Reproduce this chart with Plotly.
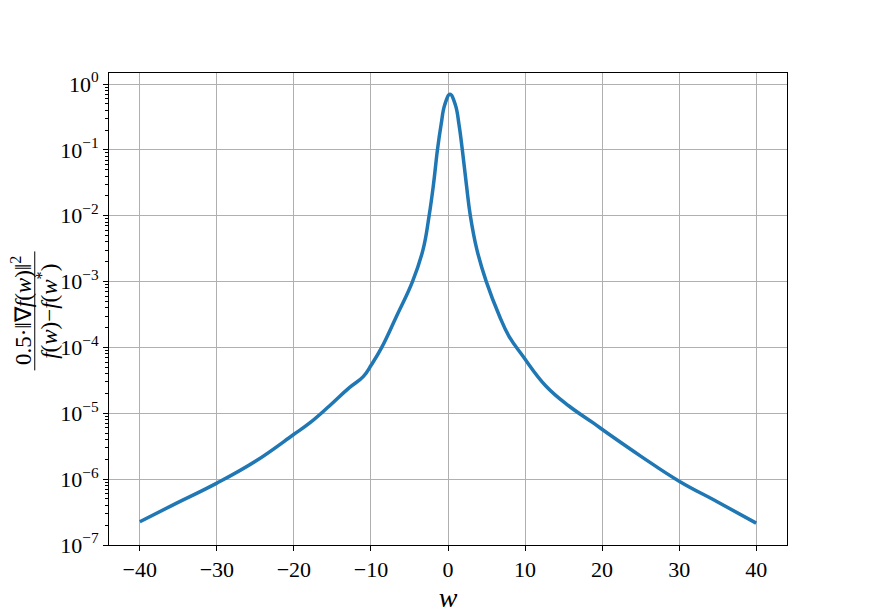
import plotly.graph_objects as go

# values (w, ratio)
w = [-40, -35.8, -30, -24.9, -20, -17.9, -15.4, -12.8, -11.0, -9.92, -8.6, -6.68, -4.61,
     -3.24, -2.45, -1.89, -1.37, -0.9, -0.43, 0.26, 0.96, 1.43, 1.86, 2.39, 2.9,
     3.75, 4.97, 6.69, 7.9, 9.71, 12.7, 15.7, 18.8, 20.9, 25.1, 30, 35, 40]
ratio = [2.25e-7, 4.0e-7, 8.7e-7, 1.9e-6, 4.8e-6, 7.2e-6, 1.29e-5, 2.45e-5, 3.6e-5, 5.5e-5,
         1.0e-4, 2.98e-4, 1.0e-3, 3.05e-3, 1.0e-2, 2.95e-2, 0.1, 0.24, 0.48, 0.70, 0.48, 0.24,
         0.1, 2.95e-2, 1.0e-2, 3.05e-3, 1.0e-3, 2.98e-4, 1.49e-4, 7.4e-5, 2.6e-5,
         1.29e-5, 7.2e-6, 4.8e-6, 2.2e-6, 9.3e-7, 4.5e-7, 2.15e-7]

xticks = [-40, -30, -20, -10, 0, 10, 20, 30, 40]
xlabels = ["−40", "−30", "−20", "−10", "0", "10", "20", "30", "40"]
yexp = [0, -1, -2, -3, -4, -5, -6, -7]
yticks = [10.0 ** e for e in yexp]
ylabels = ["10<sup>%s</sup>" % str(e).replace("-", "−") for e in yexp]
yminor = [m * 10.0 ** e for e in range(-7, 1) for m in range(2, 10)]

font = "Liberation Serif"

fig = go.Figure()
fig.add_trace(go.Scatter(x=w, y=ratio, mode="lines",
                         line=dict(color="#1f77b4", width=3.5, shape="spline", smoothing=1.2)))

axis_common = dict(showline=True, linecolor="black", linewidth=1, mirror=True, automargin=False,
                   showgrid=True, gridcolor="#b0b0b0", gridwidth=1, zeroline=False,
                   ticks="outside", ticklen=5, tickcolor="black",
                   tickfont=dict(family=font, size=22, color="black"))

fig.update_xaxes(range=[-44, 44], tickvals=xticks, ticktext=xlabels,
                 title=dict(text="<i>w</i>", font=dict(family=font, size=28, color="black"), standoff=0),
                 **axis_common)
fig.update_yaxes(type="log", range=[-7, 0.167], tickvals=yticks, ticktext=ylabels,
                 minor=dict(tickvals=yminor, ticks="outside", ticklen=3, tickcolor="black", showgrid=False),
                 **axis_common)

# y label as a stacked fraction
fig.add_annotation(xref="paper", yref="paper", x=-0.128, y=0.496, xanchor="center", yanchor="middle",
                   text="0.5·‖∇<i>f</i>(<i>w</i>)‖<sup>2</sup>", textangle=-90, showarrow=False,
                   font=dict(family=font, size=23, color="black"))
fig.add_annotation(xref="paper", yref="paper", x=-0.090, y=0.496, xanchor="center", yanchor="middle",
                   text="<i>f</i>(<i>w</i>)−<i>f</i>(<i>w</i><sup>*</sup>)", textangle=-90, showarrow=False,
                   font=dict(family=font, size=23, color="black"))
fig.add_shape(type="line", xref="paper", yref="paper", x0=-0.1095, x1=-0.1095, y0=0.37, y1=0.622,
              line=dict(color="black", width=1))

# page body adds an 8px margin, so the figure is trimmed to keep the plot box in place
fig.update_layout(width=867, height=605, plot_bgcolor="white", paper_bgcolor="white",
                  showlegend=False, margin=dict(l=101, r=88, t=65, b=68))

fig.write_html("out.html")
